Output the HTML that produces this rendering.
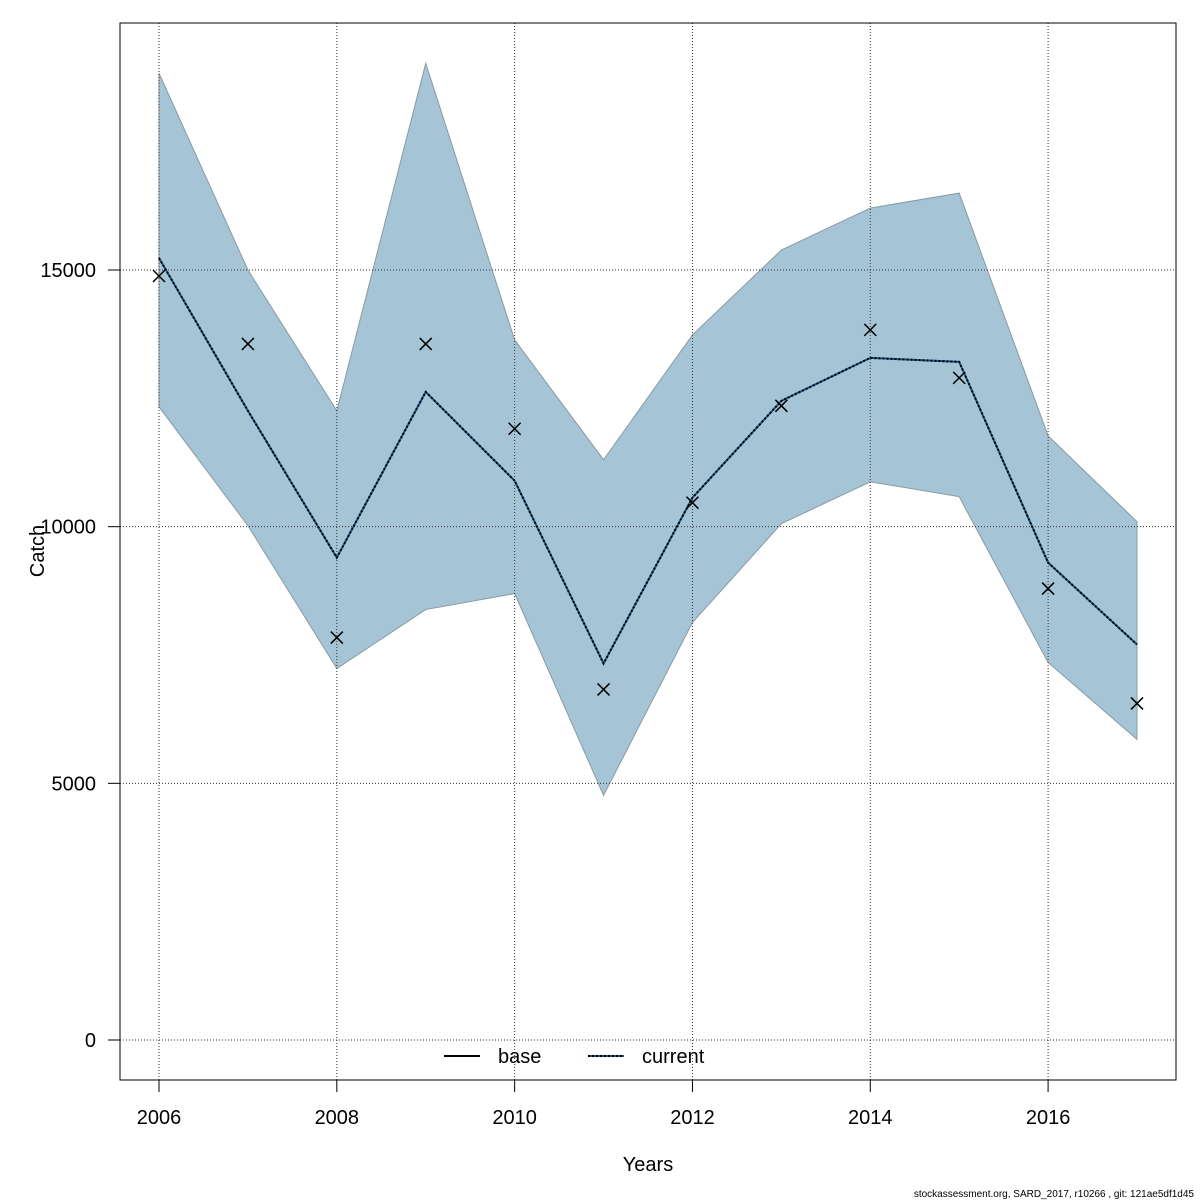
<!DOCTYPE html>
<html><head><meta charset="utf-8"><style>
html,body{margin:0;padding:0;background:#fff;}
svg{display:block;font-family:"Liberation Sans","DejaVu Sans",sans-serif;}
</style></head><body>
<svg id="chart" width="1200" height="1200" viewBox="0 0 1200 1200" xmlns="http://www.w3.org/2000/svg"></svg>
<script>
const years=[2006,2007,2008,2009,2010,2011,2012,2013,2014,2015,2016,2017];
const upper=[18833,15000,12257,19027,13638,11304,13735,15389,16206,16498,11770,10097];
const lower=[12335,10019,7237,8385,8696,4767,8132,10058,10875,10584,7354,5856];
const current=[15233,12257,9397,12626,10895,7335,10564,12451,13288,13210,9300,7704];
const observed=[14883,13560,7840,13560,11907,6829,10467,12354,13833,12899,8794,6556];
const yTicks=[0,5000,10000,15000];
const xTicks=[2006,2008,2010,2012,2014,2016];

const svg=document.getElementById('chart');
const NS='http://www.w3.org/2000/svg';
const X=v=>159+(v-2006)*(1137-159)/11;
const Y=v=>1040-v*(1040-270)/15000;
function mk(tag,attrs,parent){const e=document.createElementNS(NS,tag);for(const k in attrs)e.setAttribute(k,attrs[k]);(parent||svg).appendChild(e);return e;}

// band
let pts=years.map((y,i)=>X(y)+','+Y(upper[i])).concat(years.map((y,i)=>X(y)+','+Y(lower[i])).reverse()).join(' ');
const band=mk('polygon',{points:pts,fill:'#a5c4d5',stroke:'#8a9aa3','stroke-width':1});



// grid
yTicks.forEach(t=>{
  const g=mk('line',{x1:120,x2:1176,y1:Y(t),y2:Y(t),stroke:'#333','stroke-width':1,'stroke-dasharray':'1,2'});
  
  
  const lab=mk('text',{x:96,y:Y(t)+7,'text-anchor':'end','font-size':20,fill:'#000'});
  lab.textContent=t;
  
  
  const tk=mk('line',{x1:108,x2:120,y1:Y(t),y2:Y(t),stroke:'#000'});
  
  
});
xTicks.forEach(t=>{
  const g=mk('line',{x1:X(t),x2:X(t),y1:23,y2:1080,stroke:'#333','stroke-width':1,'stroke-dasharray':'1,2'});
  
  
  const lab=mk('text',{x:X(t),y:1124,'text-anchor':'middle','font-size':20,fill:'#000'});
  lab.textContent=t;
  
  
  const tk=mk('line',{x1:X(t),x2:X(t),y1:1080,y2:1092,stroke:'#000'});
  
  
});

// frame
const fr=mk('rect',{x:120,y:23,width:1056,height:1057,fill:'none',stroke:'#000','stroke-width':1});



// lines
const lp=years.map((y,i)=>X(y)+','+Y(current[i])).join(' ');
const l1=mk('polyline',{points:lp,fill:'none',stroke:'#1a5a8a','stroke-width':2});


const l2=mk('polyline',{points:lp,fill:'none',stroke:'#000','stroke-width':2,'stroke-dasharray':'2,2'});



// crosses
years.forEach((y,i)=>{
  const cx=X(y),cy=Y(observed[i]),s=6;
  const p=mk('path',{d:`M${cx-s},${cy-s}L${cx+s},${cy+s}M${cx-s},${cy+s}L${cx+s},${cy-s}`,stroke:'#000','stroke-width':1.5});
  
  
});

// legend
const lg=mk('g',{});


mk('line',{x1:444,x2:480,y1:1056,y2:1056,stroke:'#000','stroke-width':2},lg);
const t1=mk('text',{x:498,y:1063,'font-size':20},lg);t1.textContent='base';


mk('line',{x1:588,x2:624,y1:1056,y2:1056,stroke:'#1a5a8a','stroke-width':2},lg);
mk('line',{x1:588,x2:624,y1:1056,y2:1056,stroke:'#000','stroke-width':2,'stroke-dasharray':'2,2'},lg);
const t2=mk('text',{x:642,y:1063,'font-size':20},lg);t2.textContent='current';



// axis titles
const xt=mk('text',{x:648,y:1171,'text-anchor':'middle','font-size':20});xt.textContent='Years';


const yt=mk('text',{x:44,y:551,'text-anchor':'middle','font-size':20,transform:'rotate(-90 44 551)'});yt.textContent='Catch';


const ft=mk('text',{x:1194,y:1197,'text-anchor':'end','font-size':10});ft.textContent='stockassessment.org, SARD_2017, r10266 , git: 121ae5df1d45';


</script>
</body></html>
